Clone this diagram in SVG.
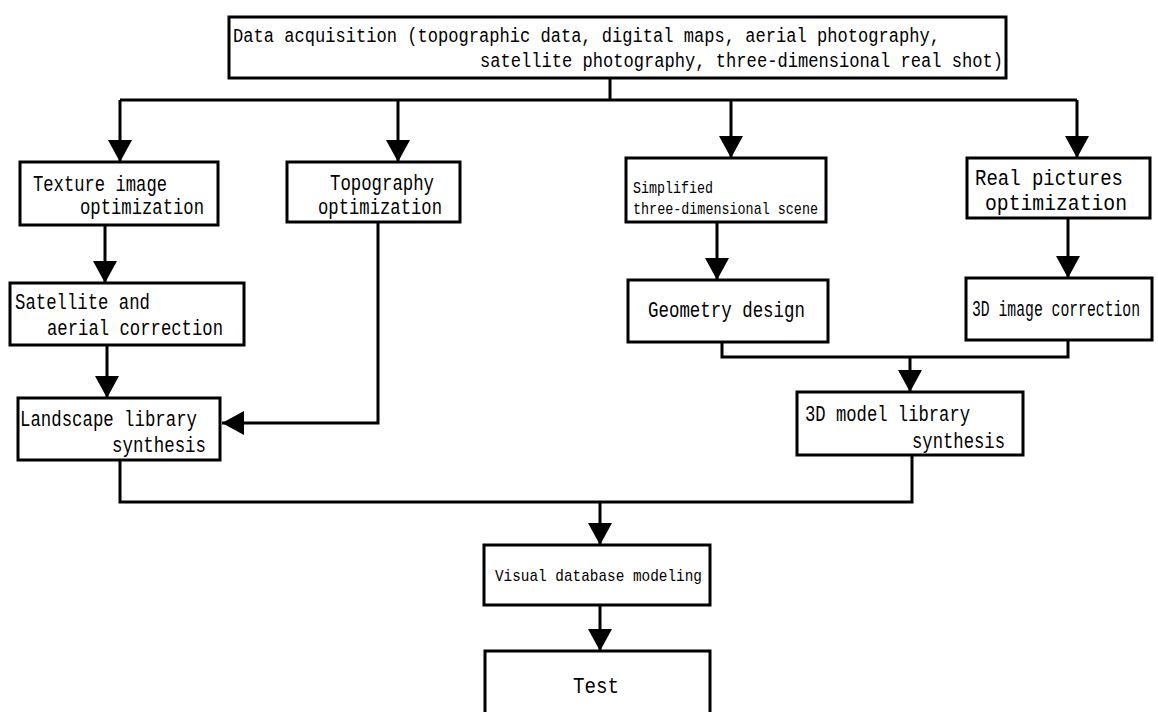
<svg xmlns="http://www.w3.org/2000/svg" width="1158" height="712" viewBox="0 0 1158 712">
<style>
.box{fill:#fff;stroke:#000;stroke-width:3}
.c{fill:none;stroke:#000;stroke-width:3}
.t{font-family:"Liberation Mono",monospace;font-size:22px;fill:#000}
.h{font-family:"Liberation Mono",monospace;font-size:20px;fill:#000}
.s{font-family:"Liberation Mono",monospace;font-size:17px;fill:#000}
</style>
<defs>
<marker id="ah" viewBox="0 0 22 24" refX="22" refY="12" markerWidth="22" markerHeight="24" markerUnits="userSpaceOnUse" orient="auto">
<path d="M0,0 L22,12 L0,24 z" fill="#000"/>
</marker>
</defs>
<rect width="1158" height="712" fill="#fff"/>
<g id="connectors">
<path class="c" d="M610,78 V100"/>
<path class="c" d="M120,100 H1077"/>
<path class="c" d="M120,100 V162" marker-end="url(#ah)"/>
<path class="c" d="M398,100 V162" marker-end="url(#ah)"/>
<path class="c" d="M731,100 V158" marker-end="url(#ah)"/>
<path class="c" d="M1077,100 V158" marker-end="url(#ah)"/>
<path class="c" d="M105,225 V283" marker-end="url(#ah)"/>
<path class="c" d="M107,345 V398" marker-end="url(#ah)"/>
<path class="c" d="M378,222 V423 H222" marker-end="url(#ah)"/>
<path class="c" d="M717,222 V280" marker-end="url(#ah)"/>
<path class="c" d="M1068,218 V278" marker-end="url(#ah)"/>
<path class="c" d="M722,342 V357 H1068 V340"/>
<path class="c" d="M910,357 V392" marker-end="url(#ah)"/>
<path class="c" d="M120,460 V502 H912 V455"/>
<path class="c" d="M600,502 V545" marker-end="url(#ah)"/>
<path class="c" d="M600,605 V651" marker-end="url(#ah)"/>
</g>
<g id="data-acquisition">
<rect class="box" x="229" y="17" width="777" height="61"/>
<text class="h" x="233" y="42" textLength="707" lengthAdjust="spacingAndGlyphs">Data acquisition (topographic data, digital maps, aerial photography,</text>
<text class="h" x="480" y="67" textLength="523" lengthAdjust="spacingAndGlyphs">satellite photography, three-dimensional real shot)</text>
</g>
<g id="texture">
<rect class="box" x="20" y="162" width="198" height="63"/>
<text class="t" x="33" y="191" textLength="134" lengthAdjust="spacingAndGlyphs">Texture image</text>
<text class="t" x="80" y="214" textLength="124" lengthAdjust="spacingAndGlyphs">optimization</text>
</g>
<g id="topography">
<rect class="box" x="287" y="162" width="173" height="60"/>
<text class="t" x="330" y="190" textLength="104" lengthAdjust="spacingAndGlyphs">Topography</text>
<text class="t" x="318" y="214" textLength="124" lengthAdjust="spacingAndGlyphs">optimization</text>
</g>
<g id="simplified">
<rect class="box" x="626" y="158" width="200" height="64"/>
<text class="s" x="633" y="193" textLength="80" lengthAdjust="spacingAndGlyphs">Simplified</text>
<text class="s" x="633" y="214" textLength="185" lengthAdjust="spacingAndGlyphs">three-dimensional scene</text>
</g>
<g id="real-pictures">
<rect class="box" x="967" y="158" width="183" height="60"/>
<text class="t" x="975" y="185" textLength="148" lengthAdjust="spacingAndGlyphs">Real pictures</text>
<text class="t" x="985" y="210" textLength="142" lengthAdjust="spacingAndGlyphs">optimization</text>
</g>
<g id="satellite">
<rect class="box" x="10" y="283" width="234" height="62"/>
<text class="t" x="15" y="309" textLength="135" lengthAdjust="spacingAndGlyphs">Satellite and</text>
<text class="t" x="47" y="335" textLength="176" lengthAdjust="spacingAndGlyphs">aerial correction</text>
</g>
<g id="landscape">
<rect class="box" x="18" y="398" width="202" height="62"/>
<text class="t" x="20" y="426" textLength="177" lengthAdjust="spacingAndGlyphs">Landscape library</text>
<text class="t" x="112" y="452" textLength="94" lengthAdjust="spacingAndGlyphs">synthesis</text>
</g>
<g id="geometry">
<rect class="box" x="628" y="280" width="200" height="62"/>
<text class="t" x="648" y="317" textLength="157" lengthAdjust="spacingAndGlyphs">Geometry design</text>
</g>
<g id="image-correction">
<rect class="box" x="966" y="278" width="186" height="62"/>
<text class="t" transform="translate(972,316) scale(0.67,1)">3D image correction</text>
</g>
<g id="model-library">
<rect class="box" x="797" y="392" width="226" height="63"/>
<text class="t" x="805" y="421" textLength="165" lengthAdjust="spacingAndGlyphs">3D model library</text>
<text class="t" x="912" y="448" textLength="93" lengthAdjust="spacingAndGlyphs">synthesis</text>
</g>
<g id="visual-database">
<rect class="box" x="484" y="545" width="226" height="60"/>
<text class="s" x="495" y="581" textLength="207" lengthAdjust="spacingAndGlyphs">Visual database modeling</text>
</g>
<g id="test">
<rect class="box" x="485" y="651" width="225" height="70"/>
<text class="t" x="573" y="693" textLength="46" lengthAdjust="spacingAndGlyphs">Test</text>
</g>
</svg>
